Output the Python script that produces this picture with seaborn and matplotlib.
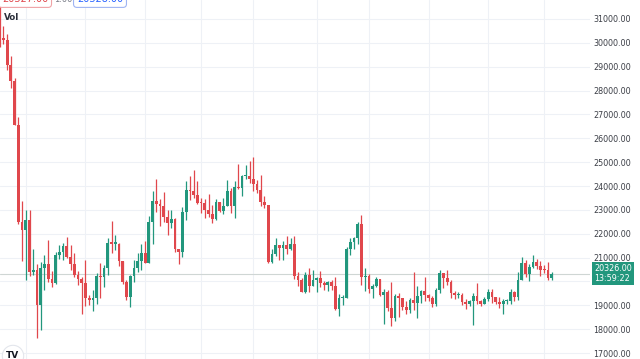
"""BTC daily candles, Jun 8 - Nov 3 2022, TradingView look"""

import matplotlib
matplotlib.use("Agg")

import matplotlib.pyplot as plt
import matplotlib.transforms as mtransforms
import numpy as np
import pandas as pd
import seaborn as sns


# daily OHLC, 2022-06-08 .. 2022-11-03
opens = [
    # Jun 8-30
    31370, 30200, 30110, 29085, 28420, 26575, 22490, 22140, 22580, 20400, 20470, 19010,
    20550, 20710, 20120, 19940, 21110, 21240, 21490, 21040, 20740, 20280, 20120,
    # Jul
    19940, 19300, 19240, 19300, 20230, 20180, 20560, 21620, 21590, 21590, 20860, 19960,
    19330, 20210, 20570, 20840, 21190, 20780, 22480, 23390, 23230, 23160, 22710, 22470,
    22610, 21360, 21240, 22930, 23840, 23770, 23640,
    # Aug
    23290, 23270, 22990, 22820, 22620, 23310, 22950, 23170, 23810, 23150, 23950, 23930,
    24400, 24440, 24310, 24100, 23850, 23340, 23190, 20830, 21140, 21520, 21400, 21530,
    21370, 21560, 20240, 20040, 19560, 20290, 19810,
    # Sep
    20050, 20130, 19950, 19830, 19990, 19810, 18840, 19290, 19320, 21360, 21650, 21830,
    22400, 20170, 20230, 19700, 19800, 20110, 19420, 19540, 18880, 18480, 19400, 19290,
    18920, 18810, 19220, 19080, 19410, 19590,
    # Oct
    19420, 19310, 19060, 19630, 20340, 20160, 19960, 19530, 19420, 19450, 19130, 19060,
    19160, 19380, 19180, 19070, 19260, 19550, 19330, 19120, 19040, 19160, 19200, 19570,
    19330, 20080, 20770, 20300, 20600, 20820, 20630,
    # Nov 1-3
    20490, 20480, 20160,
]
highs = [
    31590, 30700, 30390, 29440, 28540, 26890, 23360, 22995, 22980, 21360, 20750, 20800,
    21090, 21720, 20420, 21230, 21530, 21610, 21870, 21520, 21200, 20430, 20180,
    20880, 19430, 19650, 20350, 20760, 20680, 21840, 22530, 21950, 21600, 20870, 20050,
    20260, 20880, 21200, 21580, 21690, 22730, 23800, 24280, 23440, 23760, 22990, 23000,
    22670, 21380, 23110, 24200, 24440, 24670, 24190,
    23510, 23460, 23650, 23220, 23450, 23350, 23490, 24250, 23920, 24230, 24920, 24460,
    24890, 25050, 25210, 24250, 24450, 23600, 23220, 21380, 21800, 21530, 21680, 21900,
    21820, 21890, 20400, 20150, 20400, 20580, 20490,
    20200, 20440, 20000, 20020, 20060, 20180, 19460, 19450, 21450, 21800, 21860, 22490,
    22800, 20550, 20330, 19890, 20190, 20120, 19690, 19630, 19960, 19490, 19500, 19320,
    19180, 19320, 20390, 19790, 19650, 20190,
    19480, 19400, 19720, 20480, 20370, 20460, 20060, 19620, 19560, 19530, 19270, 19230,
    19510, 19950, 19230, 19360, 19680, 19700, 19360, 19350, 19250, 19250, 19700, 19600,
    20410, 21020, 20880, 20750, 21090, 20930, 20840,
    20700, 20800, 20400,
]
lows = [
    29840, 29950, 28850, 28100, 26560, 22400, 20850, 20070, 20230, 20250, 17620, 17960,
    19640, 19960, 19770, 19890, 20940, 20900, 21000, 20500, 20200, 19850, 18630,
    18980, 19000, 18780, 19050, 19300, 19760, 20250, 21190, 21320, 20650, 19900, 19240,
    18910, 19990, 20390, 20480, 20760, 20760, 21580, 22910, 22340, 22500, 21960, 22260,
    21250, 20710, 21040, 22580, 23410, 23510, 23230,
    22850, 22650, 22680, 22440, 22590, 22930, 22840, 23150, 22880, 22660, 23860, 23580,
    24290, 24140, 23770, 23700, 23180, 23090, 20780, 20760, 21070, 20890, 20880, 21160,
    21310, 20110, 19800, 19550, 19530, 19540, 19800,
    19570, 19750, 19650, 19600, 19640, 18800, 18540, 19000, 19300, 21110, 21350, 21560,
    19860, 19620, 19500, 19320, 19750, 19370, 18230, 18780, 18130, 18360, 18530, 18810,
    18630, 18680, 18820, 18470, 19110, 19160,
    19160, 18920, 18960, 19500, 19730, 19850, 19320, 19250, 19320, 19020, 18860, 18970,
    18190, 19070, 18980, 19060, 19160, 19100, 19070, 18900, 18650, 19070, 19070, 19160,
    19240, 20060, 20200, 20000, 20560, 20520, 20240,
    20340, 20050, 20060,
]
closes = [
    30200, 30110, 29085, 28420, 26575, 22490, 22140, 22580, 20400, 20470, 19010, 20550,
    20710, 20120, 19940, 21110, 21240, 21490, 21040, 20740, 20280, 20120, 19940,
    19300, 19240, 19300, 20230, 20180, 20560, 21620, 21590, 21590, 20860, 19960, 19330,
    20210, 20570, 20840, 21190, 20780, 22480, 23390, 23230, 23160, 22710, 22470, 22610,
    21360, 21240, 22930, 23840, 23770, 23640, 23290,
    23270, 22990, 22820, 22620, 23310, 22950, 23170, 23810, 23150, 23950, 23930, 24400,
    24440, 24310, 24100, 23850, 23340, 23190, 20830, 21140, 21520, 21400, 21530, 21370,
    21560, 20240, 20040, 19560, 20290, 19810, 20050,
    20130, 19950, 19830, 19990, 19810, 18840, 19290, 19320, 21360, 21650, 21830, 22400,
    20170, 20230, 19700, 19800, 20110, 19420, 19540, 18880, 18480, 19400, 19290, 18920,
    18810, 19220, 19080, 19410, 19590, 19420,
    19310, 19060, 19630, 20340, 20160, 19960, 19530, 19420, 19450, 19130, 19060, 19160,
    19380, 19180, 19070, 19260, 19550, 19330, 19120, 19040, 19160, 19200, 19570, 19330,
    20080, 20770, 20300, 20600, 20820, 20630, 20490,
    20480, 20160, 20326,
]

last_price = 20326
countdown = "13:59:22"
sell_price = "20327.00"
spread = "1.00"
buy_price = "20328.00"
price_ticks = list(range(17000, 31001, 1000))
grid_dates = ["2022-06-15", "2022-07-01", "2022-07-17", "2022-08-01", "2022-08-15",
              "2022-09-01", "2022-09-15", "2022-10-01", "2022-10-17", "2022-11-01"]

UP = "#22977d"
DOWN = "#e0474c"

df = pd.DataFrame({
    "date": pd.date_range("2022-06-08", periods=len(closes), freq="D"),
    "open": opens, "high": highs, "low": lows, "close": closes,
})
up = df["close"] >= df["open"]
colors = np.where(up, UP, DOWN)
body_lo = np.minimum(df["open"], df["close"])
body_h = np.maximum(np.abs(df["close"] - df["open"]), 45)

sns.set_theme(style="white")
plt.rcParams["font.family"] = ["DejaVu Sans"]

fig = plt.figure(figsize=(6.4, 3.59), dpi=100)
ax = fig.add_axes([0, 0, 590 / 640, 1])

ax.axhline(last_price, color="#cfd6d4", lw=0.8, zorder=1)
ax.vlines(df["date"], df["low"], df["high"], colors=colors, lw=0.9, zorder=2)
ax.bar(df["date"], body_h, bottom=body_lo, width=0.74, color=colors, lw=0, zorder=3)

ax.set_xlim(pd.Timestamp("2022-06-08 02:00"), pd.Timestamp("2022-11-13 07:00"))
ax.set_ylim(16749, 31796)

ax.set_xticks(pd.to_datetime(grid_dates))
ax.tick_params(axis="x", length=0, labelbottom=False)
ax.yaxis.tick_right()
ax.set_yticks(price_ticks)
# the 20000 label sits under the last-price tag, as on the scale in the screenshot
ax.set_yticklabels(["" if p == 20000 else f"{p:.2f}" for p in price_ticks])
ax.tick_params(axis="y", length=0, pad=2.5, labelsize=5.8, labelcolor="#3c3f47")
ax.grid(True, color="#eef1f6", lw=0.8)
ax.set_axisbelow(True)
sns.despine(ax=ax, left=True, bottom=True, right=True, top=True)

# last price tag on the scale
trans = mtransforms.blended_transform_factory(ax.transAxes, ax.transData)
ax.text(1 + 4 / 590, last_price, f"{last_price:.2f}\n{countdown}", transform=trans,
        ha="left", va="center", fontsize=5.8, color="white", linespacing=1.15,
        bbox=dict(boxstyle="square,pad=0.25", fc=UP, ec="none"))

# clipped buy / sell buttons at the top
fig.text(25 / 640, 1 + 1 / 359, sell_price, ha="center", va="center", fontsize=7,
         color=DOWN, bbox=dict(boxstyle="round,pad=0.35", fc="white", ec="#f0a3a6", lw=0.8))
fig.text(63 / 640, 1 + 1 / 359, spread, ha="center", va="center", fontsize=6,
         color="#787b86")
fig.text(100 / 640, 1 + 1 / 359, buy_price, ha="center", va="center", fontsize=7,
         color="#2962ff", bbox=dict(boxstyle="round,pad=0.35", fc="white", ec="#9fb4f3", lw=0.8))

fig.text(4 / 640, 1 - 17 / 359, "Vol", ha="left", va="center", fontsize=6.3,
         color="#2a2e39", weight="semibold")
fig.text(13 / 640, 1 - 356 / 359, "TV", ha="center", va="center", fontsize=6.5,
         color="#131722", weight="heavy",
         bbox=dict(boxstyle="circle,pad=0.45", fc="white", ec="#e3e6ec", lw=0.8))

fig.savefig("out.png", dpi=100)
